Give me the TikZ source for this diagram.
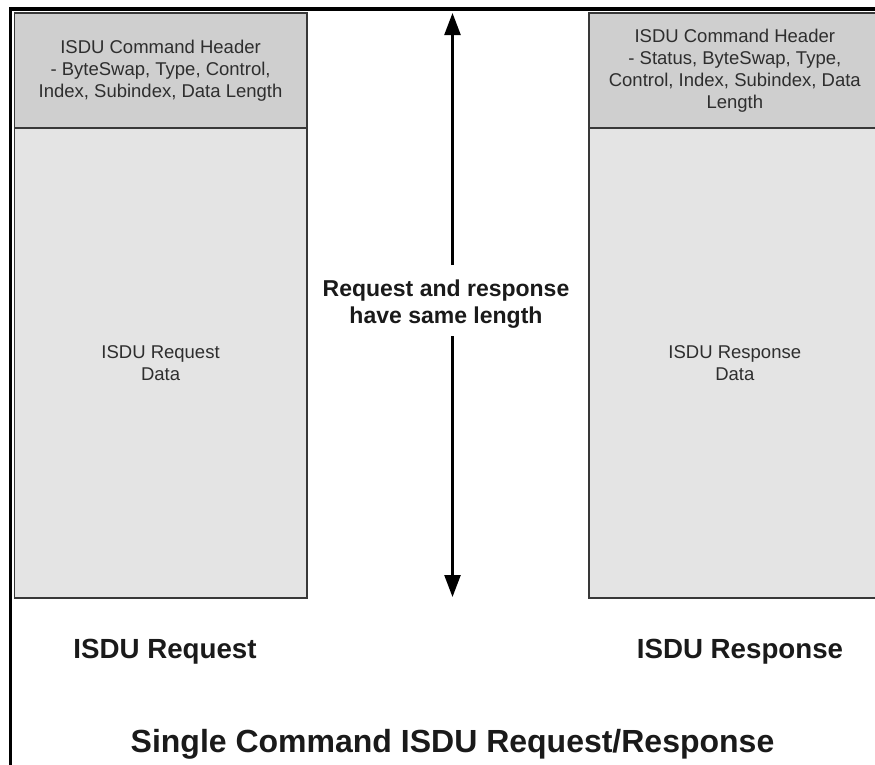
\documentclass[tikz,border=0pt]{standalone}
\usepackage{fontspec}
\setmainfont{Liberation Sans}
\usetikzlibrary{arrows.meta}
\definecolor{hdrfill}{HTML}{CFCFCF}
\definecolor{datafill}{HTML}{E4E4E4}
\definecolor{boxline}{HTML}{383838}
\definecolor{txtgray}{HTML}{2E2E2E}
\definecolor{txtdark}{HTML}{1A1A1A}
\newcommand\hdrfont{\fontsize{18.5}{22}\selectfont}
\newcommand\midfont{\fontsize{23}{27}\selectfont\bfseries}
\newcommand\lblfont{\fontsize{27.7}{32}\selectfont\bfseries}
\newcommand\ttlfont{\fontsize{32}{38}\selectfont\bfseries}
\begin{document}
\begin{tikzpicture}[x=1pt,y=-1pt,
  boxbase/.style={draw=boxline, line width=1.6pt, inner sep=0pt, align=center,
    font=\hdrfont, text=txtgray, anchor=north west},
  hdrbox/.style={boxbase, fill=hdrfill, minimum height=114.7pt},
  databox/.style={boxbase, fill=datafill, minimum height=470pt},
  lbl/.style={font=\lblfont, text=txtdark, anchor=base, inner sep=0pt},
  arr/.style={line width=2.4pt, draw=black, -{Triangle[length=22pt,width=16pt]}}]
\useasboundingbox (0,0) rectangle (875,764);
\clip (0,0) rectangle (875,764);
% frame lines
\draw[line width=3.6pt, black] (9,9.2) -- (877,9.2);
\draw[line width=3.8pt, black] (10.4,7.4) -- (10.4,766);
% left block
\node[hdrbox, minimum width=292.5pt] (lh) at (13.5,12.3)
  {ISDU Command Header\\- ByteSwap, Type, Control,\\Index, Subindex, Data Length};
\node[databox, minimum width=292.5pt] (ld) at (13.5,127) {ISDU Request\\Data};
% right block
\node[hdrbox, minimum width=292pt] (rh) at (588,12.3)
  {ISDU Command Header\\- Status, ByteSwap, Type,\\Control, Index, Subindex, Data\\Length};
\node[databox, minimum width=292pt] (rd) at (588,127) {ISDU Response\\Data};
% middle text and arrow
\node[font=\midfont, text=txtdark, align=center, inner sep=0pt] (mid) at (446,304.5)
  {Request and response\\have same length};
\coordinate (up) at (452.5,13);
\coordinate (dn) at (452.5,597);
\coordinate (gapT) at (452.5,265);
\coordinate (gapB) at (452.5,336);
\draw[arr] (gapT) -- (up);
\draw[arr] (gapB) -- (dn);
% labels
\node[lbl] (lreq) at (165,658) {ISDU Request};
\node[lbl] (lres) at (740,658) {ISDU Response};
\node[lbl, font=\ttlfont] (title) at (452.5,752) {Single Command ISDU Request/Response};
\end{tikzpicture}
\end{document}
